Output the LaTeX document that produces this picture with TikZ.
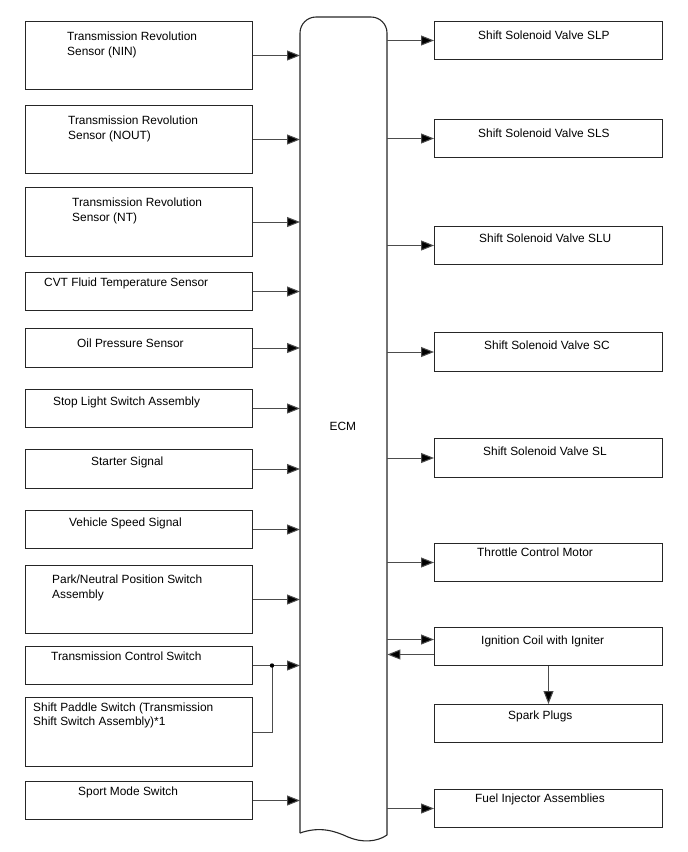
\documentclass[tikz,border=0pt]{standalone}
\usepackage{fontspec}
\setmainfont{Liberation Sans}
\usetikzlibrary{arrows.meta}
\begin{document}
\begin{tikzpicture}[x=1pt,y=-1pt,
  box/.style={draw=black!85,line width=1pt,inner sep=0pt,anchor=north west},
  lbox/.style={box,minimum width=227pt},
  rbox/.style={box,minimum width=228pt},
  lab/.style={inner sep=0pt,anchor=base west,align=left,font=\fontsize{11.9}{15}\selectfont},
  conn/.style={draw=black!70,line width=1pt,-{Triangle[length=13pt,width=10pt,fill=black]}},
  wire/.style={draw=black!70,line width=1pt}]
\useasboundingbox (0,0) rectangle (688,852);
% ECM
\node[inner sep=0pt,minimum width=87pt,minimum height=818pt,anchor=north west] (ecm) at (300,17) {};
\draw[black!85,line width=1.1pt,rounded corners=16pt] (300,833) -- (300,17) -- (387,17) -- (387,835);
\draw[black!85,line width=1.1pt] (300,833) .. controls (320,826) and (335,831) .. (348,837) .. controls (362,843) and (377,842) .. (387,835);
\node[lab] (ecmlab) at (329.5,430.7) {ECM};
% left boxes
\node[lbox,minimum height=68pt] (L1) at (25,21) {};
\node[lbox,minimum height=68pt] (L2) at (25,105) {};
\node[lbox,minimum height=69pt] (L3) at (25,187) {};
\node[lbox,minimum height=38pt] (L4) at (25,272) {};
\node[lbox,minimum height=39pt] (L5) at (25,328) {};
\node[lbox,minimum height=38pt] (L6) at (25,389) {};
\node[lbox,minimum height=39pt] (L7) at (25,449) {};
\node[lbox,minimum height=38pt] (L8) at (25,510) {};
\node[lbox,minimum height=68pt] (L9) at (25,565) {};
\node[lbox,minimum height=38pt] (L10) at (25,646) {};
\node[lbox,minimum height=69pt] (L11) at (25,697) {};
\node[lbox,minimum height=38pt] (L12) at (25,781) {};
% left labels (multi-line: base is the last line)
\node[lab] (tL1) at (67,55) {Transmission Revolution\\Sensor (NIN)};
\node[lab] (tL2) at (68,139.5) {Transmission Revolution\\Sensor (NOUT)};
\node[lab] (tL3) at (72,221.5) {Transmission Revolution\\Sensor (NT)};
\node[lab] (tL4) at (44,286.7) {CVT Fluid Temperature Sensor};
\node[lab] (tL5) at (77,347) {Oil Pressure Sensor};
\node[lab] (tL6) at (53,405.2) {Stop Light Switch Assembly};
\node[lab] (tL7) at (91,465.2) {Starter Signal};
\node[lab] (tL8) at (69,526.2) {Vehicle Speed Signal};
\node[lab] (tL9) at (52,598.5) {Park/Neutral Position Switch\\Assembly};
\node[lab] (tL10) at (51,660.8) {Transmission Control Switch};
\node[lab,font=\fontsize{11.9}{14}\selectfont] (tL11) at (33,725.2) {Shift Paddle Switch (Transmission\\Shift Switch Assembly)*1};
\node[lab] (tL12) at (78,795.2) {Sport Mode Switch};
% right boxes
\node[rbox,minimum height=38pt] (R1) at (434,21) {};
\node[rbox,minimum height=38pt] (R2) at (434,119) {};
\node[rbox,minimum height=38pt] (R3) at (434,226) {};
\node[rbox,minimum height=39pt] (R4) at (434,332) {};
\node[rbox,minimum height=39pt] (R5) at (434,438) {};
\node[rbox,minimum height=38pt] (R6) at (434,543) {};
\node[rbox,minimum height=38pt] (R7) at (434,627) {};
\node[rbox,minimum height=38pt] (R8) at (434,704) {};
\node[rbox,minimum height=38pt] (R9) at (434,789) {};
% right labels
\node[lab] (tR1) at (478,39.2) {Shift Solenoid Valve SLP};
\node[lab] (tR2) at (478,137.5) {Shift Solenoid Valve SLS};
\node[lab] (tR3) at (479,242.5) {Shift Solenoid Valve SLU};
\node[lab] (tR4) at (484,349.2) {Shift Solenoid Valve SC};
\node[lab] (tR5) at (483,455.8) {Shift Solenoid Valve SL};
\node[lab] (tR6) at (477,556.8) {Throttle Control Motor};
\node[lab] (tR7) at (481,644.2) {Ignition Coil with Igniter};
\node[lab] (tR8) at (508,719.2) {Spark Plugs};
\node[lab] (tR9) at (475,802.8) {Fuel Injector Assemblies};
% left connectors
\foreach \n in {L1,L2,L3,L4,L5,L6,L7,L8,L9,L10,L12}
  \draw[conn] (\n.east) -- (\n.east -| ecm.west);
\path (L10.east) ++(19pt,0) coordinate (j);
\draw[wire] (L11.east) -| (j);
\fill[black] (j) circle (2.2pt);
% right connectors
\foreach \n in {R1,R2,R3,R4,R5,R6,R9}
  \draw[conn] (\n.west -| ecm.east) -- (\n.west);
\draw[conn] ([yshift=7pt]ecm.east |- R7.west) -- ([yshift=7pt]R7.west);
\draw[conn] ([yshift=-8pt]R7.west) -- ([yshift=-8pt]ecm.east |- R7.west);
\draw[conn] (R7.south) -- (R8.north);
\end{tikzpicture}
\end{document}
